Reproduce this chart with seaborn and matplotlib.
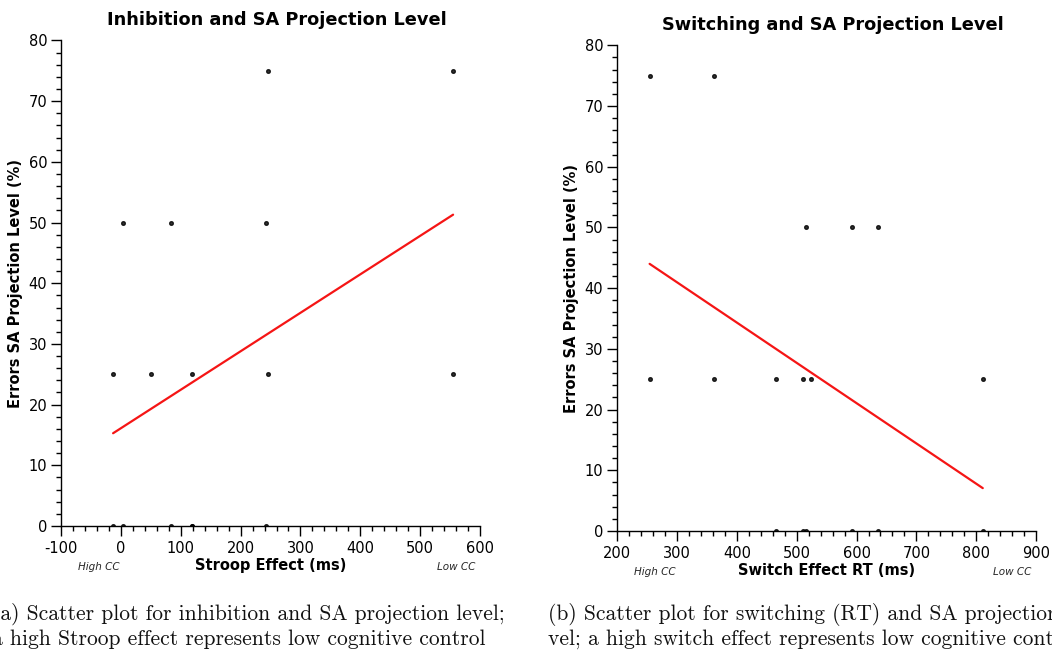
import numpy as np
import pandas as pd
import matplotlib
matplotlib.use('Agg')
import matplotlib.pyplot as plt
from matplotlib.ticker import MultipleLocator
import seaborn as sns

# data (ms, % errors)
stroop_ms = [245, 555, 4, 83, 242, -13, 50, 119, 245, 555, -13, 4, 83, 119, 119, 242]
stroop_err = [75, 75, 50, 50, 50, 25, 25, 25, 25, 25, 0, 0, 0, 0, 0, 0]

switch_ms = [254, 361, 515, 592, 636, 254, 361, 465, 510, 523, 811,
             465, 510, 515, 592, 636, 811]
switch_err = [75, 75, 50, 50, 50, 25, 25, 25, 25, 25, 25,
              0, 0, 0, 0, 0, 0]

inhib = pd.DataFrame({'Stroop Effect (ms)': stroop_ms, 'Errors': stroop_err})
switch = pd.DataFrame({'Switch Effect RT (ms)': switch_ms, 'Errors': switch_err})

sns.set_style('ticks')
plt.rcParams['font.family'] = ['DejaVu Sans']
plt.rcParams['axes.unicode_minus'] = False

fig = plt.figure(figsize=(10.52, 6.52), dpi=100)
ax1 = fig.add_axes([0.058, 0.1933, 0.3983, 0.7446])
ax2 = fig.add_axes([0.5868, 0.1856, 0.398, 0.745])


def style_axis(ax, xcol, xlim, title):
    ax.set_xlim(*xlim)
    ax.set_ylim(0, 80)
    ax.xaxis.set_major_locator(MultipleLocator(100))
    ax.xaxis.set_minor_locator(MultipleLocator(20))
    ax.yaxis.set_major_locator(MultipleLocator(10))
    ax.yaxis.set_minor_locator(MultipleLocator(2))
    ax.tick_params(which='major', length=7, width=1, labelsize=10.5,
                   color='black', labelcolor='black')
    ax.tick_params(which='minor', length=3.8, width=1, color='black')
    ax.tick_params(axis='x', pad=4)
    ax.tick_params(axis='y', pad=3)
    for s in ['top', 'right']:
        ax.spines[s].set_visible(False)
    for s in ['left', 'bottom']:
        ax.spines[s].set_color('black')
        ax.spines[s].set_linewidth(1)
    ax.set_title(title, fontsize=12.8, fontweight='bold', pad=11, x=0.515, color='black')
    ax.set_xlabel(xcol, fontsize=10.5, fontweight='bold', labelpad=1, color='black')
    ax.set_ylabel('Errors SA Projection Level (%)', fontsize=10.5, fontweight='bold',
                  labelpad=4, color='black')
    ax.text(0.04, -0.085, 'High CC', transform=ax.transAxes, fontsize=7.5,
            style='italic', ha='left', va='center')
    ax.text(0.99, -0.085, 'Low CC', transform=ax.transAxes, fontsize=7.5,
            style='italic', ha='right', va='center')


sns.regplot(data=inhib, x='Stroop Effect (ms)', y='Errors', ax=ax1, ci=None,
            scatter_kws={'s': 7, 'color': 'black', 'zorder': 3},
            line_kws={'color': '#f51515', 'lw': 1.6})
style_axis(ax1, 'Stroop Effect (ms)', (-100, 600), 'Inhibition and SA Projection Level')

sns.regplot(data=switch, x='Switch Effect RT (ms)', y='Errors', ax=ax2, ci=None,
            scatter_kws={'s': 7, 'color': 'black', 'zorder': 3},
            line_kws={'color': '#f51515', 'lw': 1.6})
style_axis(ax2, 'Switch Effect RT (ms)', (200, 900), 'Switching and SA Projection Level')

# captions (cut at the page edges as in the original)
cap = dict(family='cmr10', fontsize=15.5, ha='left', va='baseline', color='#111111')
fig.text(-0.0078, 1 - 620 / 652, '(a) Scatter plot for inhibition and SA projection level;', **cap)
fig.text(-0.0078, 1 - 645 / 652, 'a high Stroop effect represents low cognitive control', **cap)
fig.text(548 / 1052, 1 - 620 / 652, '(b) Scatter plot for switching (RT) and SA projection le-', **cap)
fig.text(548 / 1052, 1 - 645 / 652, 'vel; a high switch effect represents low cognitive control', **cap)

fig.savefig('out.png', dpi=100)
